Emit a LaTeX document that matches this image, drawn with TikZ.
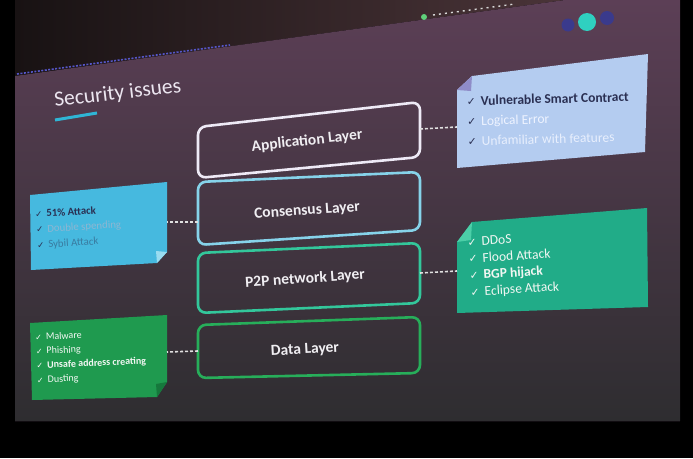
\documentclass[tikz,border=0pt]{standalone}
\usepackage{fontspec}
\setmainfont{Carlito}
\newfontfamily\symfont{DejaVu Sans}
\definecolor{wallL}{HTML}{181213}
\definecolor{wallR}{HTML}{4A3438}
\definecolor{slidetop}{HTML}{5C3F56}
\definecolor{slidemid}{HTML}{3A2D3A}
\definecolor{slidebot}{HTML}{2E2D30}
\definecolor{stripc}{HTML}{5656C8}
\definecolor{dotc}{HTML}{2FD0C0}
\definecolor{navdot}{HTML}{3A3A8C}
\definecolor{greendot}{HTML}{5FD07A}
\definecolor{appc}{HTML}{EEEAF6}
\definecolor{consc}{HTML}{86D3EA}
\definecolor{p2pc}{HTML}{33C79B}
\definecolor{datac}{HTML}{27AE5A}
\definecolor{boxtxt}{HTML}{F0EEF2}
\definecolor{linkc}{HTML}{E0E0E0}
\definecolor{vulc}{HTML}{B4CCF0}
\definecolor{vulfold}{HTML}{8F8CC8}
\definecolor{atkc}{HTML}{46B9DF}
\definecolor{atkfold}{HTML}{9ADCF0}
\definecolor{netc}{HTML}{21AC88}
\definecolor{netfold}{HTML}{4CCFA8}
\definecolor{datboxc}{HTML}{1F9A4F}
\definecolor{datfold}{HTML}{16783C}
\definecolor{darktxt}{HTML}{2A2F52}
\definecolor{paletxt}{HTML}{EEF3FF}
\definecolor{midtxt}{HTML}{8DB6D2}
\definecolor{whitetxt}{HTML}{F2F7F3}
\definecolor{titlec}{HTML}{ECE6F0}
\definecolor{underc}{HTML}{2FB5D5}
\newcommand{\ck}[1]{{\symfont\scalebox{0.8}{✓}}\hspace{#1}}
\begin{document}
\begin{tikzpicture}[x=1pt,y=-1pt,
  layerbox/.style={line width=2.6pt, rounded corners=8pt},
  layertext/.style={text=boxtxt, font=\bfseries\fontsize{15.5}{17}\selectfont, inner sep=0pt},
  link/.style={draw=linkc, line width=1.6pt, dash pattern=on 3pt off 2pt},
  listtext/.style={inner sep=0pt, align=left, anchor=west}]
\useasboundingbox (0,0) rectangle (693,458);
% background, wall and slide
\fill[black] (0,0) rectangle (693,458);
\shade[left color=wallL, right color=wallR] (15,0) -- (15,76) -- (565,0) -- cycle;
\shade[top color=slidetop, middle color=slidemid, bottom color=slidebot]
  (15,76) -- (565,0) -- (680,0) -- (680,421) -- (15,421) -- cycle;
\draw[line width=1pt, draw=black!70!slidemid] (15,421) -- (680,421);
% header strip and icons
\draw[stripc, line width=1.6pt, dash pattern=on 2pt off 1.5pt] (17,74) -- (230,45);
\fill[greendot] (424,17) circle (3);
\draw[white!70!gray, line width=1.4pt, dash pattern=on 2pt off 4pt] (433,15) -- (515,4);
\fill[navdot] (568,25) circle (6.5);
\fill[dotc] (587,22) circle (9);
\fill[navdot] (607,18) circle (7);
% title
\node[anchor=base west, inner sep=0pt, rotate=6.7, text=titlec,
      font=\fontsize{21.5}{23}\selectfont] (title) at (55,107) {Security issues};
\draw[underc, line width=3pt] (55,120) -- (97,113);
% layers
\draw[layerbox, draw=appc] (198,127) -- (420,102) -- (420,157) -- (198,178) -- cycle;
\node[layertext, rotate=6] (app) at (307,141) {Application Layer};
\draw[layerbox, draw=consc] (198,182) -- (420,172) -- (420,230) -- (198,245) -- cycle;
\node[layertext, rotate=4] (cons) at (307,211) {Consensus Layer};
\draw[layerbox, draw=p2pc] (198,253) -- (420,243) -- (420,303) -- (198,313) -- cycle;
\node[layertext, rotate=4] (p2p) at (305,279) {P2P network Layer};
\draw[layerbox, draw=datac] (198,325) -- (420,317) -- (420,373) -- (198,378) -- cycle;
\node[layertext, rotate=3] (data) at (305,350) {Data Layer};
% side boxes
\fill[vulc] (472,76) -- (648,54) -- (645,152) -- (457,168) -- (457,90) -- cycle;
\fill[vulfold] (457,90) -- (472,76) -- (471,91) -- cycle;
\node[listtext, rotate=1.5, font=\fontsize{13.5}{20}\selectfont] (vul) at (467,121)
  {\textcolor{darktxt}{\ck{5pt}\textbf{Vulnerable Smart Contract}}\\
   \textcolor{darktxt}{\ck{5pt}}\textcolor{paletxt}{Logical Error}\\
   \textcolor{darktxt}{\ck{5pt}}\textcolor{paletxt!90!vulc}{Unfamiliar with features}};
\fill[atkc] (30,195) -- (167,182) -- (167,252) -- (157,263) -- (31,270) -- cycle;
\fill[atkfold] (167,252) -- (157,263) -- (156,251) -- cycle;
\node[listtext, rotate=3.5, font=\fontsize{10.8}{15.5}\selectfont] (atk) at (36,230)
  {\textcolor{darktxt}{\ck{4pt}\textbf{51\% Attack}}\\
   \textcolor{darktxt}{\ck{4pt}}\textcolor{midtxt}{Double spending}\\
   \textcolor{darktxt}{\ck{4pt}}\textcolor{darktxt!45!atkc}{Sybil Attack}};
\fill[netc] (472,222) -- (647,208) -- (648,307) -- (457,313) -- (457,242) -- cycle;
\fill[netfold] (457,242) -- (472,222) -- (471,240) -- cycle;
\node[listtext, rotate=3.5, text=whitetxt, font=\fontsize{13.5}{16.7}\selectfont] (net) at (469,268)
  {\ck{5pt}DDoS\\ \ck{5pt}Flood Attack\\ \ck{5pt}\textbf{BGP hijack}\\ \ck{5pt}Eclipse Attack};
\fill[datboxc] (30,323) -- (167,315) -- (167,382) -- (157,397) -- (32,400) -- cycle;
\fill[datfold] (167,382) -- (157,397) -- (156,384) -- cycle;
\node[listtext, rotate=2.5, text=whitetxt, font=\fontsize{10}{14.3}\selectfont] (dat) at (36,359)
  {\ck{4pt}Malware\\ \ck{4pt}Phishing\\ \ck{4pt}\textbf{Unsafe address creating}\\ \ck{4pt}Dusting};
% connectors
\coordinate (appE) at (420,129);
\coordinate (vulW) at (457,127);
\coordinate (consW) at (198,222);
\coordinate (atkE) at (167,222);
\coordinate (p2pE) at (420,273);
\coordinate (netW) at (457,271);
\coordinate (dataW) at (198,351);
\coordinate (datE) at (167,352);
\draw[link] (appE) -- (vulW);
\draw[link] (consW) -- (atkE);
\draw[link] (p2pE) -- (netW);
\draw[link] (dataW) -- (datE);
\end{tikzpicture}
\end{document}
